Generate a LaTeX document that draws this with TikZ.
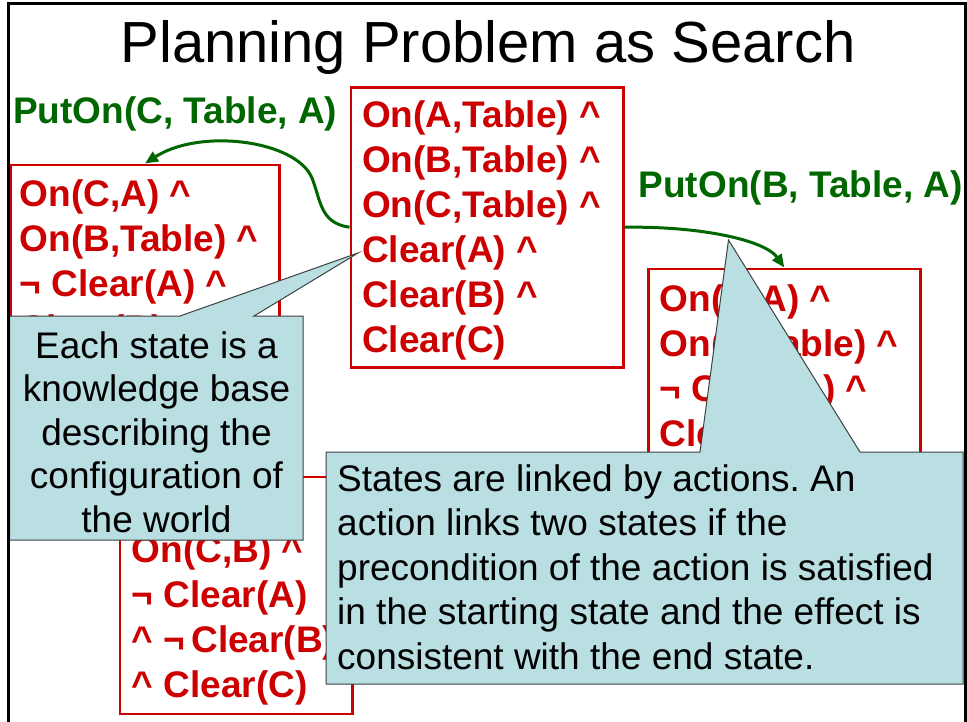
\documentclass[tikz,border=0pt]{standalone}
\usepackage{fontspec}
\setmainfont{Liberation Sans}
\usetikzlibrary{arrows.meta}
\definecolor{boxred}{HTML}{CC0000}
\definecolor{actgreen}{HTML}{006600}
\definecolor{notefill}{HTML}{B9DFE3}
\definecolor{noteline}{HTML}{404040}
\newcommand{\andsym}{\textasciicircum}
\frenchspacing
\tikzset{
  statebox/.style={draw=boxred, line width=2.5pt, inner sep=0pt, anchor=north west},
  statetext/.style={text=boxred, font=\fontsize{37}{45}\selectfont\bfseries, inner sep=0pt, anchor=base west},
  actlabel/.style={text=actgreen, font=\fontsize{37}{45}\selectfont\bfseries, inner sep=0pt, anchor=base west},
  actarrow/.style={draw=actgreen, line width=3pt, -{Triangle[length=13pt,width=11pt]}},
  notebox/.style={fill=notefill, draw=noteline, line width=1pt, line join=miter},
  notetext/.style={text=black, inner sep=0pt},
  frameline/.style={draw=black, line width=3pt, line join=miter},
  titletext/.style={font=\fontsize{58}{64}\selectfont, inner sep=0pt, anchor=base}
}
\begin{document}
\begin{tikzpicture}[x=1pt,y=-1pt]
\useasboundingbox (0,0) rectangle (967,721);
\fill[white] (0,0) rectangle (967,721);

% title
\node[titletext] (title) at (488,62) {Planning Problem as Search};

% state boxes
\node[statebox, minimum width=272.5pt, minimum height=280pt] (s0) at (349.5,86) {};
\node[statebox, minimum width=268.5pt, minimum height=330pt] (s1) at (9.5,163.5) {};
\node[statebox, minimum width=272pt, minimum height=230pt] (s2) at (647,267.5) {};
\node[statebox, minimum width=232.5pt, minimum height=237pt] (s3) at (118.5,475.5) {};

% state texts
\node[statetext] (t0) at (362,127) {\begin{tabular}[t]{@{}l@{}}On(A,Table) \andsym\\On(B,Table) \andsym\\On(C,Table) \andsym\\Clear(A) \andsym\\Clear(B) \andsym\\Clear(C)\end{tabular}};
\node[statetext] (t1) at (19.5,206.5) {\begin{tabular}[t]{@{}l@{}}On(C,A) \andsym\\On(B,Table) \andsym\\¬ Clear(A) \andsym\\Clear(B) \andsym\end{tabular}};
\node[statetext] (t2) at (659.5,311.5) {\begin{tabular}[t]{@{}l@{}}On(B,A) \andsym\\On(C,Table) \andsym\\¬ Clear(A) \andsym\\Clear(B) \andsym\end{tabular}};
\node[statetext] (t3) at (131.5,562) {\begin{tabular}[t]{@{}l@{}}On(C,B) \andsym\\¬ Clear(A)\\\andsym{} ¬\,Clear(B)\\\andsym{} Clear(C)\end{tabular}};

% action labels
\node[actlabel] (a1) at (13,123.5) {PutOn(C, Table, A)};
\node[actlabel] (a2) at (638.5,197) {PutOn(B, Table, A)};

% action arrows
\draw[actarrow] (s0.west) .. controls (320,223) and (321,201) .. (312,178)
  .. controls (296,140) and (200,128) .. (s1.north);
\draw[actarrow] (s0.east) .. controls (700,226) and (765,240) .. (s2.north);

% callout 1
\path[notebox] (9.5,316) -- (180,316) -- (358,253) -- (254,316) -- (303,316)
  -- (303,540) -- (9.5,540) -- cycle;
\node[notetext, font=\fontsize{37}{43.5}\selectfont, anchor=base] (n1) at (156.5,358)
  {\begin{tabular}[t]{@{}c@{}}Each state is a\\knowledge base\\describing the\\configuration of\\the world\end{tabular}};

% callout 2
\path[notebox] (326,452) -- (700,452) -- (728.5,240) -- (860,452) -- (963,452)
  -- (963,684) -- (326,684) -- cycle;
\node[notetext, font=\fontsize{37}{44.5}\selectfont, anchor=base west] (n2) at (337,491)
  {\begin{tabular}[t]{@{}l@{}}States are linked by actions. An\\action links two states if the\\precondition of the action is satisfied\\in the starting state and the effect is\\consistent with the end state.\end{tabular}};

% slide frame
\draw[frameline] (8.5,730) -- (8.5,3.5) -- (965,3.5) -- (965,730);
\end{tikzpicture}
\end{document}
